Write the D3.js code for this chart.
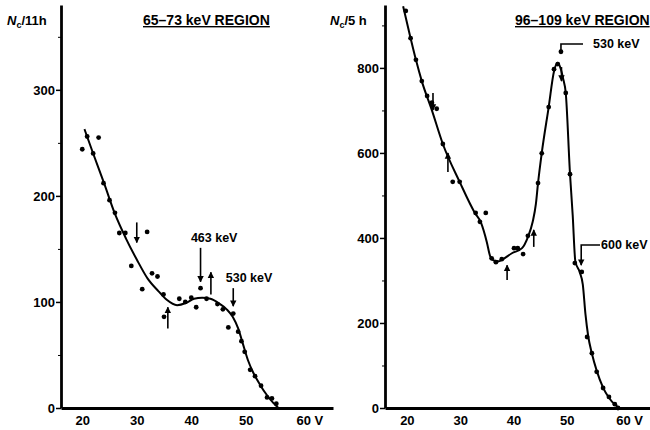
<html>
<head>
  <meta charset="utf-8">
  <script src="https://cdn.jsdelivr.net/npm/d3@7/dist/d3.min.js"></script>
  <style>
  body { margin: 0; background: white; }
  text { font-family: "Liberation Sans", Arial, sans-serif; font-weight: bold; fill: black; }
  .axis path, .axis line { stroke: black; }
  .axis path { stroke-width: 2.8; }
  .axis text { font-size: 13px; }
  .curve { stroke: black; stroke-width: 2; fill: none; }
  </style>
</head>
<body>
<script>

// left panel: 65-73 keV region (counts per 11 h)
var leftPtX = [20, 20.9, 22, 23, 23.9, 25, 26, 26.8, 27.9, 29, 31, 31.9, 32.8, 33.8, 34.9, 35, 37.8, 38.9, 40, 40.9, 41.7, 42.8, 44.8, 45.8, 46.8, 47.7, 48.6, 49.2, 49.8, 50.8, 51.7, 52.8, 53.9, 54.8, 55.6]
var leftPtY = [244, 256, 240, 255, 212, 196, 184, 165, 165, 134, 112, 166, 127, 124, 107, 86, 103, 100, 104, 95, 113, 103, 98, 93, 76, 89, 72, 63, 53, 36, 30, 21, 10, 9, 4]
var leftCurveX = [20.4, 22, 24, 26, 28, 30, 32, 34, 35.5, 37.4, 39, 40.5, 42, 43.5, 45, 46.5, 47.6, 48.6, 49.5, 50.4, 51.4, 52.6, 53.9, 55, 56]
var leftCurveY = [263, 240, 212, 183, 160, 140, 122, 110, 102, 97, 99, 103, 104, 103, 99, 93, 86, 75, 60, 45, 33, 22, 12, 5, 0]
var leftArrowX = [30, 35.7, 41.7, 43.6, 47.7]
var leftArrowFrom = [175, 75, 151, 107, 113]
var leftArrowTo = [156, 95, 119, 128, 96]
var leftTicks = [0, 100, 200, 300]
var leftMinor = [50, 150, 250, 350]

// right panel: 96-109 keV region (counts per 5 h)
var rightPtX = [19.8, 20.7, 21.7, 22.8, 23.8, 24.7, 25.6, 26.75, 28.6, 29.9, 32.9, 33.7, 34.8, 35.9, 36.7, 37.8, 40.1, 40.8, 41.8, 42.7, 44.6, 45.3, 46.6, 47.6, 48.3, 48.9, 49.8, 50.6, 51.5, 52.8, 53.8, 54.7, 55.6, 56.8, 57.9, 59, 59.6]
var rightPtY = [934, 870, 819, 769, 734, 718, 704, 621, 532, 532, 459, 438, 459, 352, 343, 350, 376, 376, 362, 405, 529, 599, 708, 797, 809, 838, 741, 550, 341, 320, 167, 129, 85, 47, 26, 9, 0]
var rightCurveX = [19.3, 20.7, 21.7, 22.8, 24.7, 26.75, 29.9, 32.75, 33.9, 35, 35.6, 36.3, 37.2, 37.9, 39.7, 41.6, 42.7, 43.6, 44.2, 44.6, 45.3, 46.6, 47.6, 48.3, 48.8, 49.3, 49.8, 50.6, 51.1, 51.6, 52.4, 53, 53.5, 54, 54.7, 55.6, 56.8, 57.9, 59, 59.8]
var rightCurveY = [945, 870, 819, 769, 700, 621, 532, 459, 436, 390, 358, 347, 345, 349, 364, 376, 402, 438, 480, 529, 600, 708, 792, 812, 800, 775, 741, 550, 454, 345, 320, 290, 220, 170, 128, 88, 48, 24, 8, 0]
var rightArrowX = [24.9, 27.7, 38.8, 43.8, 49, 52.7]
var rightArrowFrom = [741, 555, 301, 379, 802, 379]
var rightArrowTo = [701, 600, 336, 419, 769, 336]
var rightTicks = [0, 200, 400, 600, 800]
var rightMinor = [100, 300, 500, 700, 900]

var xTicks = [20, 30, 40, 50, 60]

var width = 650, height = 430

var svg = d3.select('body')
            .append('svg')
            .attr('width', width)
            .attr('height', height)

svg.append('defs').append('marker')
   .attr('id', 'head')
   .attr('viewBox', '0 0 10 10')
   .attr('refX', 9).attr('refY', 5)
   .attr('markerWidth', 4).attr('markerHeight', 5)
   .attr('orient', 'auto')
   .append('path')
   .attr('d', 'M0,0L10,5L0,10z')
   .attr('fill', 'black')

function panel(opt) {
  var x = d3.scaleLinear().domain(opt.xDom).range([opt.x0, opt.x1])
  var y = d3.scaleLinear().domain(opt.yDom).range([408, 5])
  var g = svg.append('g')

  // minor ticks on the y axis
  g.append('g')
   .attr('class', 'axis')
   .attr('transform', 'translate(' + opt.x0 + ',0)')
   .call(d3.axisLeft(y).tickValues(opt.minor).tickSize(3).tickFormat(''))
   .select('.domain').remove()

  g.append('g')
   .attr('class', 'axis')
   .attr('transform', 'translate(' + opt.x0 + ',0)')
   .call(d3.axisLeft(y).tickValues(opt.ticks).tickSize(5).tickPadding(1).tickSizeOuter(0))
   .selectAll('line').attr('stroke-width', 1.5)

  var xa = g.append('g')
   .attr('class', 'axis')
   .attr('transform', 'translate(0,408)')
   .call(d3.axisBottom(x).tickValues(xTicks).tickSize(2).tickPadding(6).tickSizeOuter(0)
          .tickFormat(function(d) { return d == 60 ? '60 V' : d; }))
  xa.selectAll('text').attr('dx', function(d) { return d == 60 ? 9 : 0; })
  xa.select('.domain').attr('stroke-width', 2.2)

  var line = d3.line()
               .x(function(d) { return x(d[0]); })
               .y(function(d) { return y(d[1]); })
               .curve(d3.curveMonotoneX)
  g.append('path')
   .datum(d3.zip(opt.cx, opt.cy))
   .attr('class', 'curve')
   .attr('d', line)

  g.selectAll('.dot')
   .data(d3.zip(opt.px, opt.py))
   .enter()
   .append('circle')
   .attr('class', 'dot')
   .attr('cx', function(d) { return x(d[0]); })
   .attr('cy', function(d) { return y(d[1]); })
   .attr('r', 2.4)
   .attr('fill', 'black')

  g.selectAll('.arrow')
   .data(d3.zip(opt.ax, opt.af, opt.at))
   .enter()
   .append('line')
   .attr('class', 'arrow')
   .attr('x1', function(d) { return x(d[0]); })
   .attr('x2', function(d) { return x(d[0]); })
   .attr('y1', function(d) { return y(d[1]); })
   .attr('y2', function(d) { return y(d[2]); })
   .attr('stroke', 'black')
   .attr('stroke-width', 1.6)
   .attr('marker-end', 'url(#head)')

  // y label  N_c / ...
  var lab = g.append('text')
   .attr('x', opt.labX)
   .attr('y', 25)
   .style('font-size', '13px')
  lab.append('tspan').attr('font-style', 'italic').text('N')
  lab.append('tspan').attr('dy', 3).style('font-size', '9px').text('c')
  lab.append('tspan').attr('dy', -3).text(opt.unit)

  g.append('text')
   .attr('x', opt.titleX)
   .attr('y', 25)
   .style('font-size', '14px')
   .attr('text-decoration', 'underline')
   .text(opt.title)

  return {x: x, y: y, g: g}
}

var L = panel({xDom: [16.1, 66], yDom: [0, 380], x0: 61, x1: 333,
               cx: leftCurveX, cy: leftCurveY, px: leftPtX, py: leftPtY,
               ax: leftArrowX, af: leftArrowFrom, at: leftArrowTo,
               ticks: leftTicks, minor: leftMinor,
               labX: 7, unit: '/11h', titleX: 143, title: '65\u201373 keV REGION'})

var R = panel({xDom: [15.9, 65.6], yDom: [0, 948], x0: 385, x1: 650,
               cx: rightCurveX, cy: rightCurveY, px: rightPtX, py: rightPtY,
               ax: rightArrowX, af: rightArrowFrom, at: rightArrowTo,
               ticks: rightTicks, minor: rightMinor,
               labX: 330, unit: '/5 h', titleX: 515, title: '96\u2013109 keV REGION'})

// annotations
L.g.append('text').attr('x', L.x(44.2)).attr('y', 242).attr('text-anchor', 'middle')
   .style('font-size', '12.5px').text('463 keV')
L.g.append('text').attr('x', L.x(50.6)).attr('y', 282).attr('text-anchor', 'middle')
   .style('font-size', '12.5px').text('530 keV')

R.g.append('path')
   .attr('d', 'M' + R.x(48.9) + ',' + R.y(838) + 'V44H583')
   .attr('stroke', 'black').attr('stroke-width', 1.6).attr('fill', 'none')
R.g.append('text').attr('x', 593).attr('y', 48)
   .style('font-size', '12.5px').text('530 keV')
R.g.append('path')
   .attr('d', 'M' + R.x(52.7) + ',' + R.y(379) + 'V245H600')
   .attr('stroke', 'black').attr('stroke-width', 1.6).attr('fill', 'none')
R.g.append('text').attr('x', 601).attr('y', 249)
   .style('font-size', '12.5px').text('600 keV')

</script>
</body>
</html>
